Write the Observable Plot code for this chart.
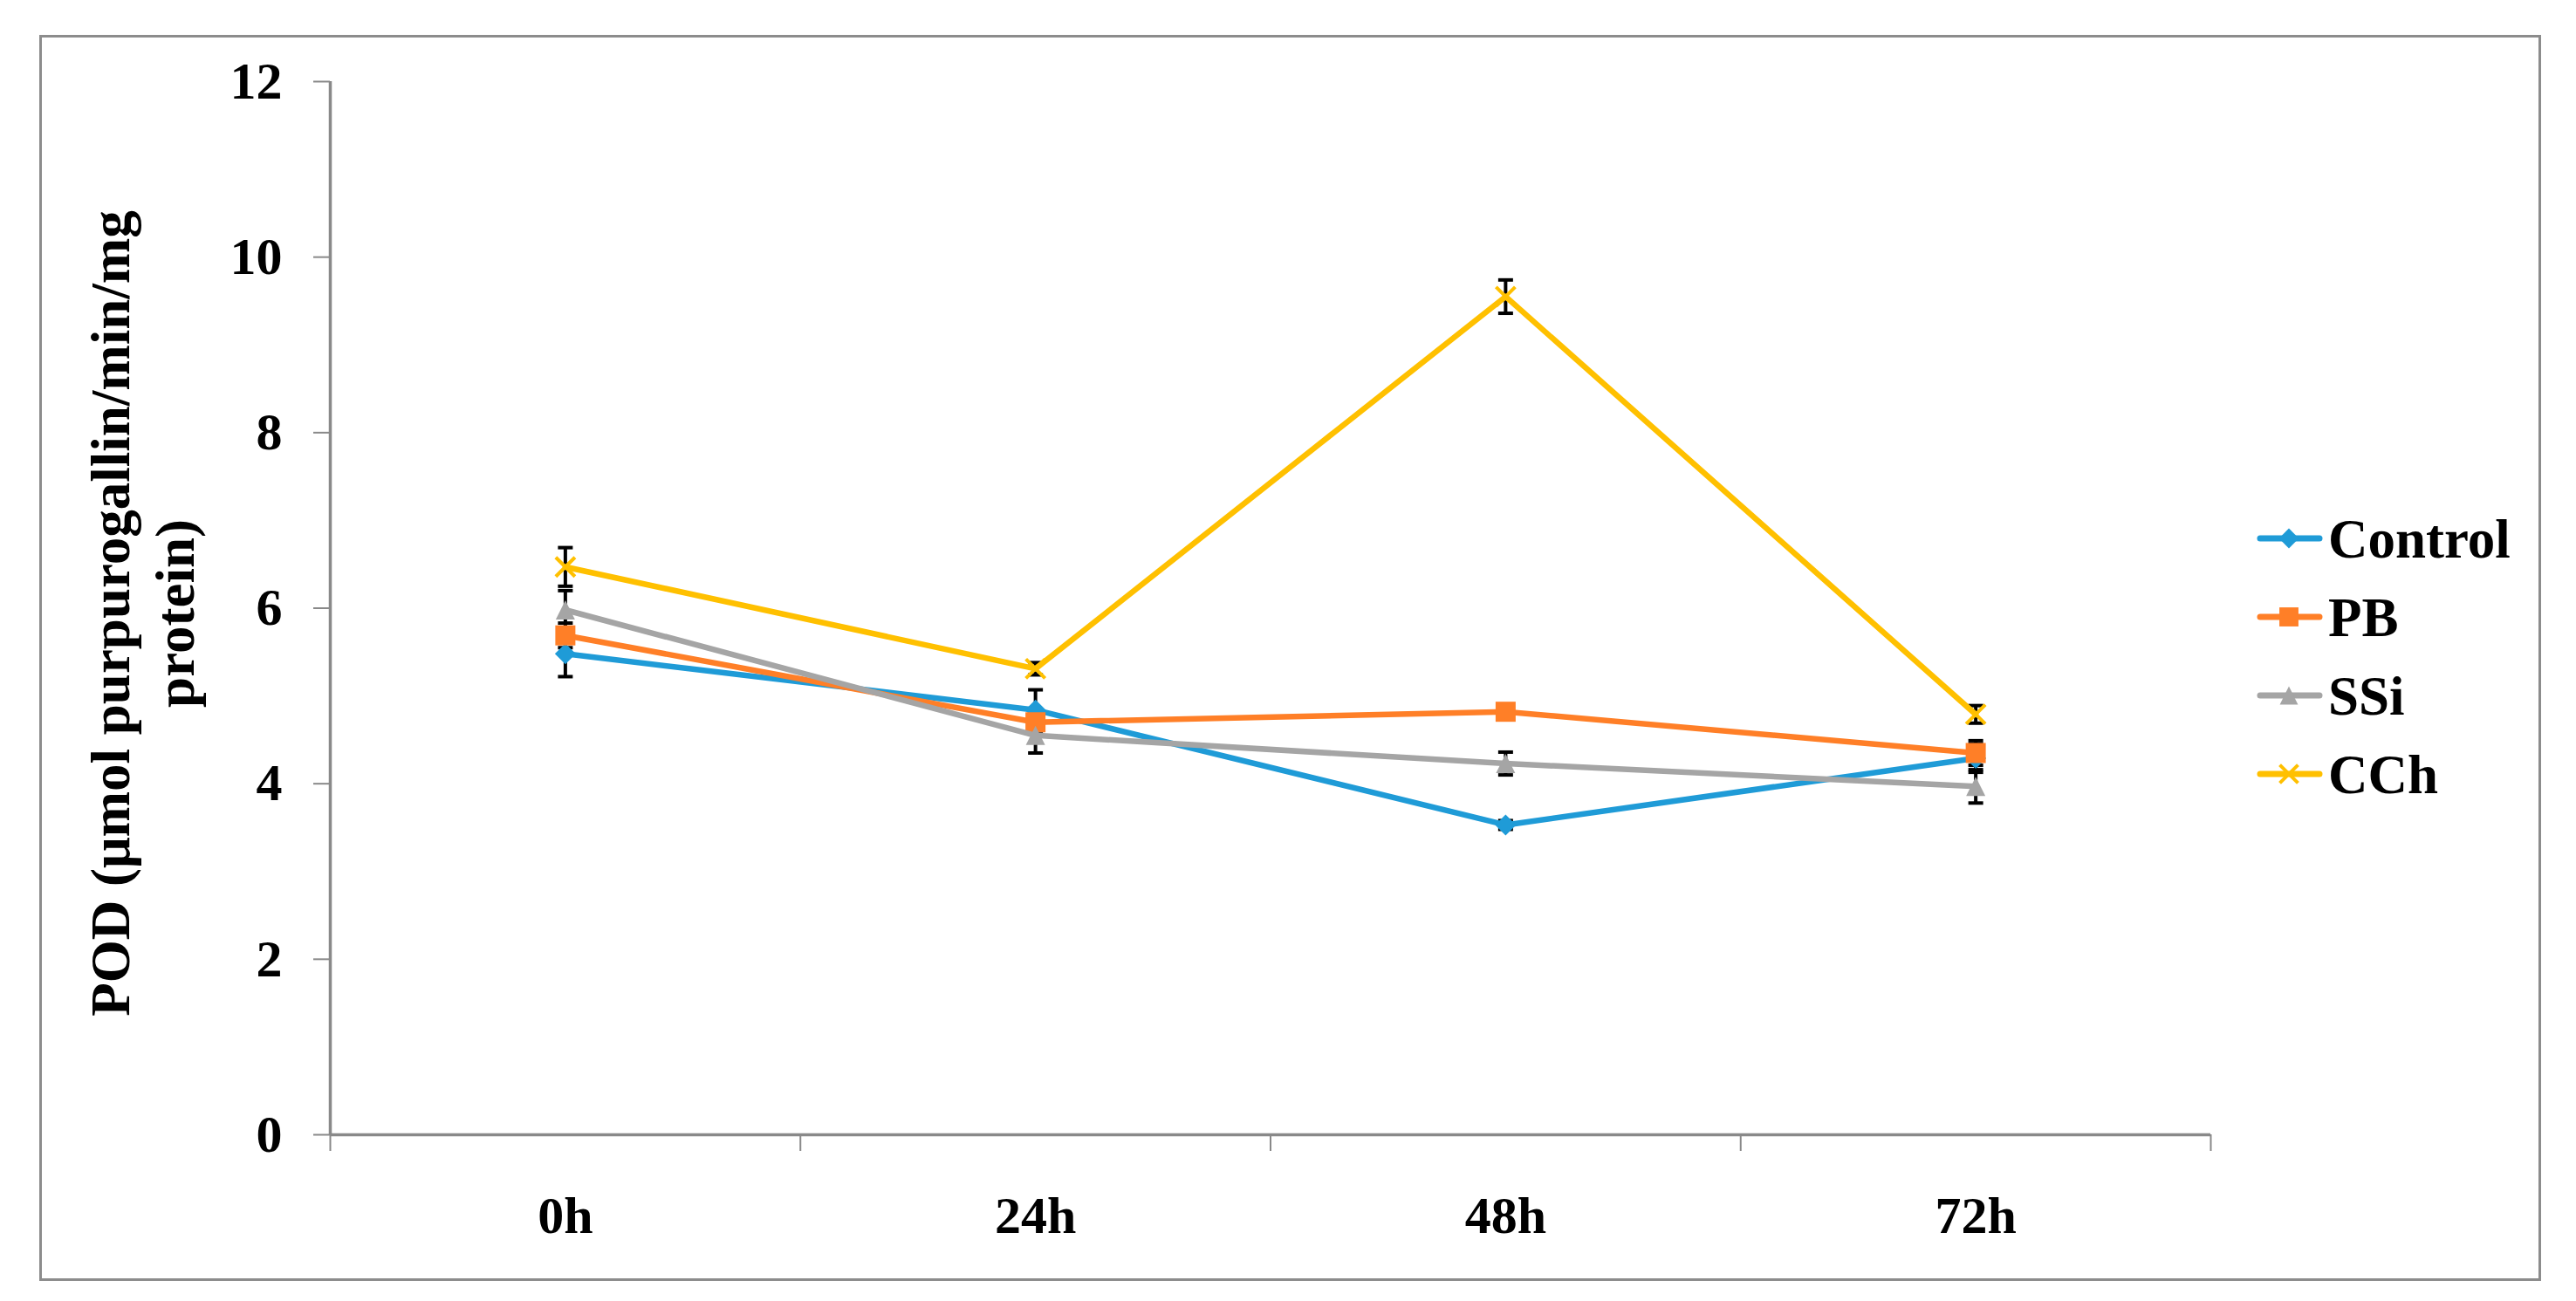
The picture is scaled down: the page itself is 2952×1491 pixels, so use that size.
<!DOCTYPE html>
<html><head><meta charset="utf-8">
<script src="https://cdn.jsdelivr.net/npm/d3@7"></script>
<script src="https://cdn.jsdelivr.net/npm/@observablehq/plot@0.6"></script>
<style>
html,body{margin:0;padding:0;background:#fff;}
#wrap{position:relative;width:2952px;height:1491px;overflow:hidden;background:#fff;}
#wrap svg{position:absolute;left:0;top:0;}
</style></head><body><div id="wrap"></div>
<script>
// ---- data ----
const timepoints = ["0h", "24h", "48h", "72h"];
const seriesNames = ["Control", "PB", "SSi", "CCh"];
const seriesColors = ["#1F9BD7", "#FF7F27", "#A5A5A5", "#FFC000"];
const controlValues = [5.48, 4.84, 3.53, 4.29];
const controlErrors = [0.26, 0.23, 0.05, 0.16];
const pbValues = [5.69, 4.70, 4.82, 4.35];
const pbErrors = [0.14, 0.10, 0.05, 0.14];
const ssiValues = [5.98, 4.55, 4.23, 3.97];
const ssiErrors = [0.22, 0.20, 0.13, 0.19];
const cchValues = [6.47, 5.31, 9.55, 4.79];
const cchErrors = [0.22, 0.07, 0.19, 0.10];
const yTicks = [0, 2, 4, 6, 8, 10, 12];
const yTitleLines = ["POD (μmol purpurogallin/min/mg", "protein)"];

// ---- symbols ----
const R = s => Math.sqrt(s / Math.PI);
const symDiamond = {draw(c, s) {const r = R(s); c.moveTo(0, -r); c.lineTo(r, 0); c.lineTo(0, r); c.lineTo(-r, 0); c.closePath();}};
const symSquare = {draw(c, s) {const r = R(s); c.moveTo(-r, -r); c.lineTo(r, -r); c.lineTo(r, r); c.lineTo(-r, r); c.closePath();}};
const symTriangle = {draw(c, s) {const r = R(s); c.moveTo(0, -r); c.lineTo(r, r); c.lineTo(-r, r); c.closePath();}};
const symTimes = {draw(c, s) {const r = R(s); c.moveTo(-r, -r); c.lineTo(r, r); c.moveTo(r, -r); c.lineTo(-r, r);}};
const symCap = {draw(c, s) {const r = R(s); c.moveTo(-r, 0); c.lineTo(r, 0);}};

const markerStyles = [
  {symbol: symDiamond, r: 12, filled: true},
  {symbol: symSquare, r: 11.5, filled: true},
  {symbol: symTriangle, r: 11, filled: true},
  {symbol: symTimes, r: 11, filled: false}
];

const valueSets = [controlValues, pbValues, ssiValues, cchValues];
const errorSets = [controlErrors, pbErrors, ssiErrors, cchErrors];
const rows = seriesNames.flatMap((name, k) => timepoints.map((t, i) => ({
  series: name, k, x: i + 0.5, y: valueSets[k][i], err: errorSets[k][i]
})));

const FONT = "'Liberation Serif', 'Times New Roman', serif";
const AXIS = "#898989";

const marks = [
  // axis lines
  Plot.ruleY([0], {x1: 0, x2: timepoints.length, stroke: AXIS, strokeWidth: 3.5}),
  Plot.ruleX([0], {y1: 0, y2: 12, stroke: AXIS, strokeWidth: 3.5}),
  Plot.axisY({ticks: yTicks, tickSize: 19, tickPadding: 36, fontSize: 60, stroke: AXIS, strokeWidth: 2, fill: "black", label: null, tickFormat: d => String(d)}),
  Plot.axisX({ticks: d3.range(timepoints.length + 1), tickSize: 19, stroke: AXIS, strokeWidth: 2, tickFormat: () => "", label: null}),
  Plot.axisX({ticks: timepoints.map((t, i) => i + 0.5), tickSize: 0, tickPadding: 70, fontSize: 60, fill: "black", label: null, tickFormat: d => timepoints[Math.floor(d)]}),
  // error bars (behind)
  Plot.ruleX(rows, {x: "x", y1: d => d.y - d.err, y2: d => d.y + d.err, stroke: "black", strokeWidth: 4}),
  Plot.dot(rows, {x: "x", y: d => d.y - d.err, symbol: symCap, r: 8.5, stroke: "black", strokeWidth: 4, fill: "none"}),
  Plot.dot(rows, {x: "x", y: d => d.y + d.err, symbol: symCap, r: 8.5, stroke: "black", strokeWidth: 4, fill: "none"})
];

seriesNames.forEach((name, k) => {
  const data = rows.filter(d => d.series === name);
  const m = markerStyles[k];
  marks.push(Plot.line(data, {x: "x", y: "y", stroke: seriesColors[k], strokeWidth: 6.5, strokeLinejoin: "round"}));
  marks.push(Plot.dot(data, {x: "x", y: "y", symbol: m.symbol, r: m.r,
    fill: m.filled ? seriesColors[k] : "none",
    stroke: m.filled ? "none" : seriesColors[k], strokeWidth: m.filled ? 0 : 4}));
});

const chart = Plot.plot({
  width: 2952, height: 1491,
  marginLeft: 378, marginRight: 419, marginTop: 93, marginBottom: 191,
  x: {type: "linear", domain: [0, timepoints.length]},
  y: {domain: [0, 12]},
  style: {fontFamily: FONT, fontWeight: "bold", background: "transparent", color: "black", overflow: "visible"},
  marks
});
document.getElementById("wrap").appendChild(chart);

// ---- overlay: frame, y title, legend ----
const ov = d3.select("#wrap").append("svg")
  .attr("width", 2952).attr("height", 1491)
  .style("font-family", FONT).style("font-weight", "bold");

ov.append("rect").attr("x", 46.5).attr("y", 41.5).attr("width", 2864).attr("height", 1425)
  .attr("fill", "none").attr("stroke", "#8C8C8C").attr("stroke-width", 3);

const title = ov.append("g").attr("transform", "translate(148,703) rotate(-90)");
yTitleLines.forEach((line, j) => {
  title.append("text").attr("x", 0).attr("y", j * 74)
    .attr("text-anchor", "middle").attr("font-size", 63).attr("fill", "black").text(line);
});

const leg = ov.append("g");
seriesNames.forEach((name, k) => {
  const y = 617 + k * 90;
  const g = leg.append("g").attr("transform", `translate(0,${y})`);
  g.append("line").attr("x1", 2590).attr("x2", 2658).attr("y1", 0).attr("y2", 0)
    .attr("stroke", seriesColors[k]).attr("stroke-width", 7).attr("stroke-linecap", "round");
  const m = markerStyles[k];
  const p = d3.path();
  m.symbol.draw(p, Math.PI * (m.r * 0.95) ** 2);
  g.append("path").attr("d", p.toString()).attr("transform", "translate(2623,0)")
    .attr("fill", m.filled ? seriesColors[k] : "none")
    .attr("stroke", m.filled ? "none" : seriesColors[k]).attr("stroke-width", 4);
  g.append("text").attr("x", 2668).attr("y", 22).attr("font-size", 63).attr("fill", "black").text(name);
});
</script>
</body></html>
